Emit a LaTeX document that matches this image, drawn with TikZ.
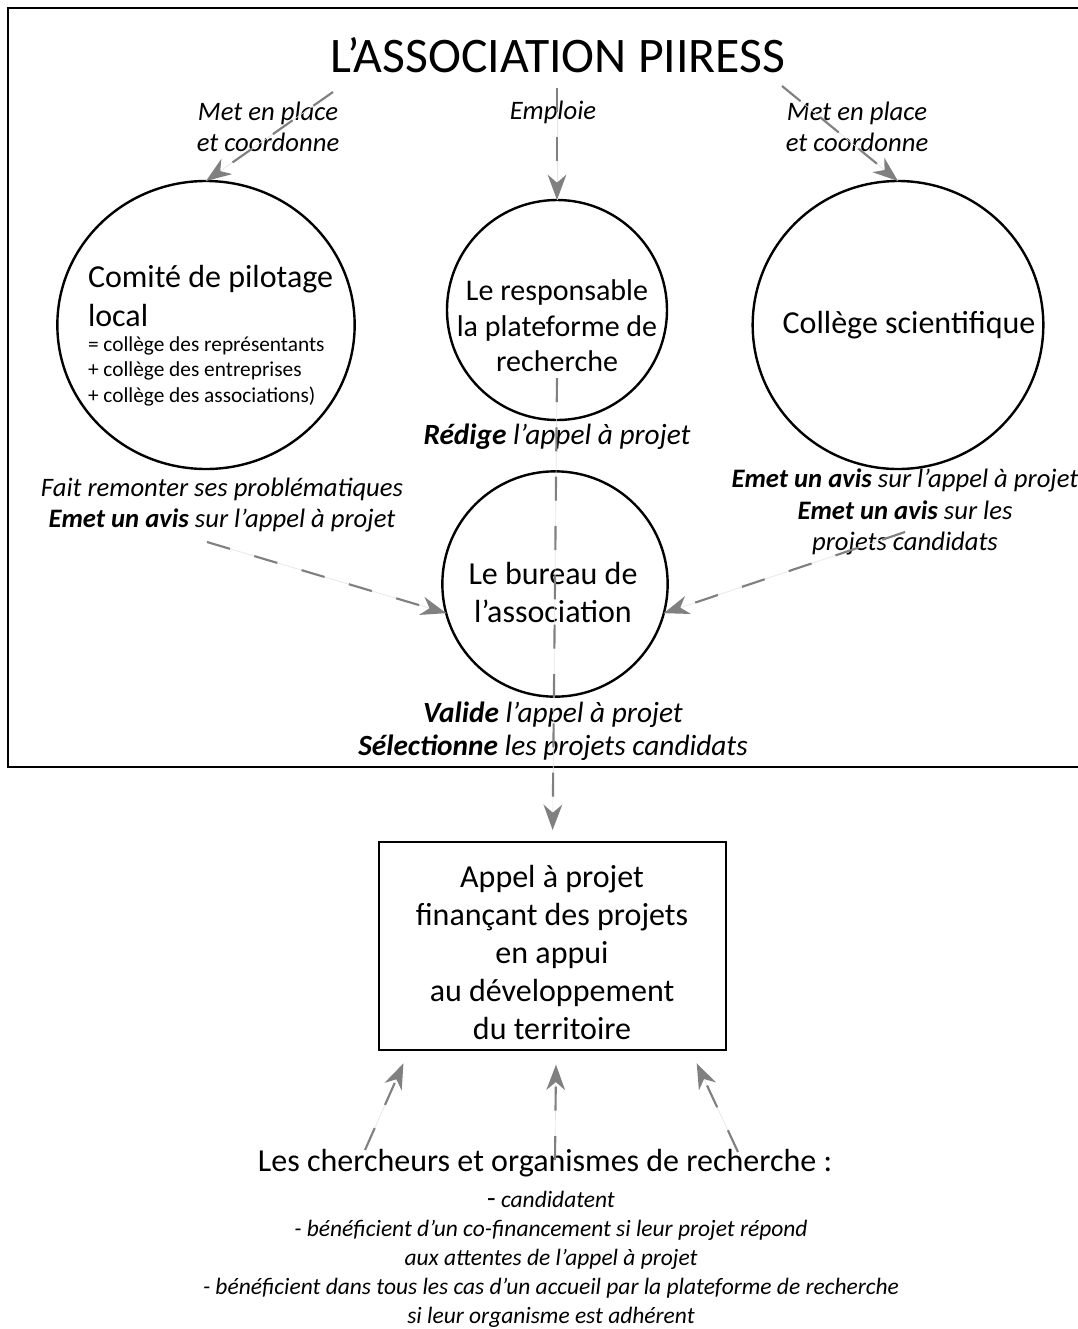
\documentclass[tikz,border=0pt]{standalone}
\usepackage{fontspec}
\setmainfont{Carlito}
\usetikzlibrary{arrows.meta,shapes.geometric}
\begin{document}
\begin{tikzpicture}[x=0.75pt,y=-0.75pt,
  every node/.style={inner sep=0pt, outer sep=0pt},
  bubble/.style={draw=black, line width=1.8pt, ellipse},
  conn/.style={draw=gray, line width=1.6pt, dash pattern=on 18pt off 19pt,
    -{Stealth[length=19pt,width=14pt,inset=6pt]},
    preaction={draw=gray!20, line width=0.5pt, solid, -}},
  lbl/.style={font=\fontsize{20}{23.5}\selectfont\itshape, align=center},
  lblb/.style={font=\fontsize{22}{25}\selectfont\itshape, align=center},
  big/.style={font=\fontsize{24}{28.5}\selectfont, align=center},
]
\useasboundingbox (0,0) rectangle (1078,1329);
\fill[white] (0,0) rectangle (1078,1329);
\draw[line width=1.8pt] (8,8) rectangle (1095,767);

% circles
\node[bubble, minimum width=223pt, minimum height=216pt] (comite) at (206,325) {};
\node[bubble, minimum width=165pt, minimum height=165pt] (resp) at (557,310) {};
\node[bubble, minimum width=218pt, minimum height=216pt] (college) at (898,325) {};
\node[bubble, minimum width=169pt, minimum height=169pt] (bureau) at (555,584) {};
\node[draw, line width=1.8pt, minimum width=260pt, minimum height=156pt] (appel) at (552.5,946) {};

% title
\node[font=\fontsize{37.3}{43}\selectfont] (title) at (558,55) {L’ASSOCIATION PIIRESS};

% circle texts
\node[anchor=base west, font=\fontsize{24}{28}\selectfont] (comA) at (88,287) {Comité de pilotage};
\node[anchor=base west, font=\fontsize{24}{28}\selectfont] (comB) at (88,326) {local};
\node[anchor=base west, font=\fontsize{16}{19}\selectfont] (comC) at (88,351) {= collège des représentants};
\node[anchor=base west, font=\fontsize{16}{19}\selectfont] (comD) at (88,376) {+ collège des entreprises};
\node[anchor=base west, font=\fontsize{16}{19}\selectfont] (comE) at (88,402) {+ collège des associations)};
\node[font=\fontsize{22.5}{26.5}\selectfont, align=center] (respT) at (557,326) {Le responsable\\la plateforme de\\recherche};
\node[font=\fontsize{24}{26}\selectfont] (colT) at (909,325) {Collège scientifique};
\node[font=\fontsize{24}{28.5}\selectfont, align=center] (burT) at (553,592) {Le bureau de\\l’association};

% labels
\node[lbl] (lab1) at (268,127) {Met en place\\et coordonne};
\node[lbl] (lab2) at (553,112) {Emploie};
\node[lbl] (lab3) at (857,127) {Met en place\\et coordonne};
\node[lblb] (lab4) at (557,437) {\textbf{Rédige} l’appel à projet};
\node[lbl] (lab5) at (222,505) {Fait remonter ses problématiques\\\textbf{Emet un avis} sur l’appel à projet};
\node[lbl] (lab6) at (905,512) {\textbf{Emet un avis} sur l’appel à projet\\\textbf{Emet un avis} sur les\\projets candidats};
\node[lblb] (lab7) at (553,731) {\textbf{Valide} l’appel à projet\\\textbf{Sélectionne} les projets candidats};

% box text
\node[big] (appT) at (552,952) {Appel à projet\\finançant des projets\\en appui\\au développement\\du territoire};

% bottom
\node[font=\fontsize{24}{28}\selectfont] (cherch) at (545,1163) {Les chercheurs et organismes de recherche :};
\node[font=\fontsize{17.6}{21.75}\selectfont\itshape, align=center] (liste) at (551,1259) {{\upshape\fontsize{21}{21.75}\selectfont -} candidatent\\- bénéficient d’un co-financement si leur projet répond\\aux attentes de l’appel à projet\\- bénéficient dans tous les cas d’un accueil par la plateforme de recherche\\si leur organisme est adhérent};

% connectors
\coordinate (tl) at (333,92);
\coordinate (tc) at (557,88);
\coordinate (tr) at (782,86);
\coordinate (lb) at (207,542);
\coordinate (rb) at (905,532);
\coordinate (rc) at (557,378);
\coordinate (b1) at (365,1150);
\coordinate (b2) at (555,1160);
\coordinate (b3) at (738,1152);
\draw[conn] (tl) -- (comite.north);
\draw[conn] (tc) -- (resp.north);
\draw[conn] (tr) -- (college.north);
\draw[conn] (lb) -- (bureau.195);
\draw[conn] (rb) -- (bureau.-15);
\draw[conn, shorten >=9pt] (rc) -- (appel.north);
\draw[conn, shorten >=11pt] (b1) -- (appel.216.3);
\draw[conn, shorten >=11pt] (b2) -- (appel.272.5);
\draw[conn, shorten >=11pt] (b3) -- (appel.323.1);
\end{tikzpicture}
\end{document}
